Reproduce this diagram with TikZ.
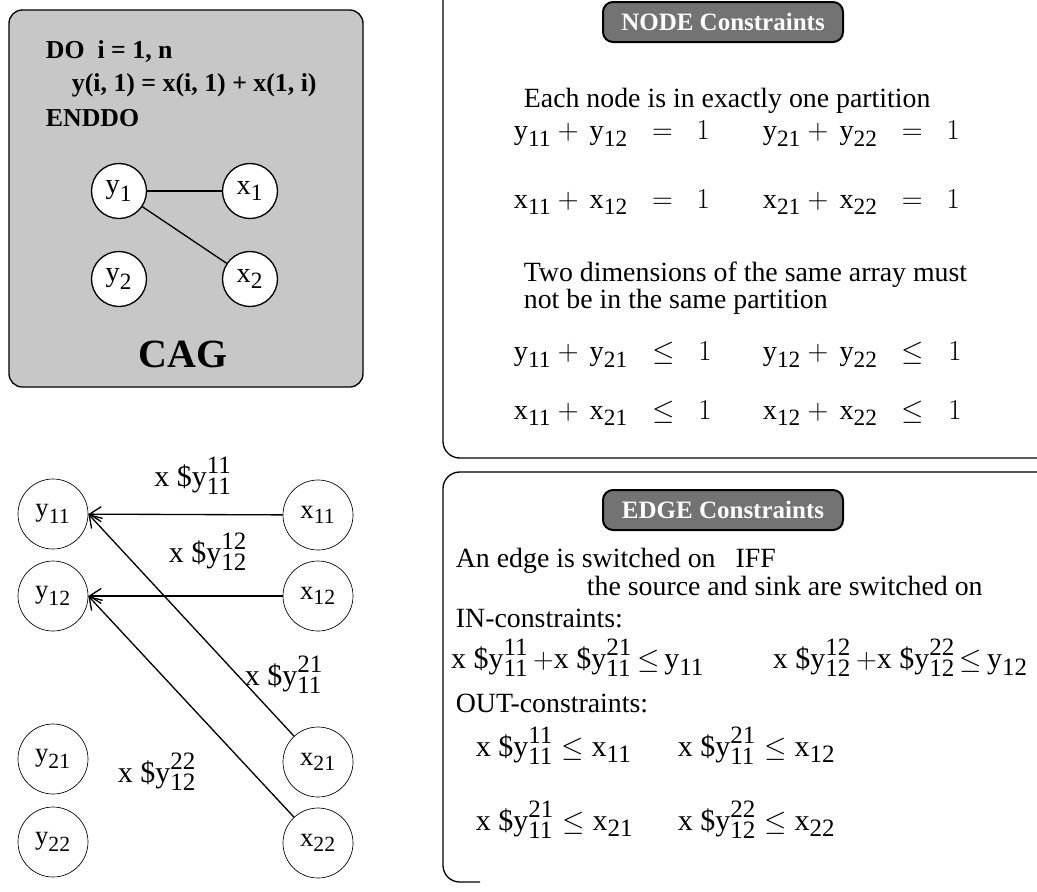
\documentclass[tikz,border=0pt]{standalone}
\usepackage{amsmath}
\usepackage{fontspec}
\setmainfont{Liberation Serif}
\usetikzlibrary{arrows.meta, positioning}
\DeclareMathSizes{16}{16}{13}{11}
\DeclareMathSizes{17}{17}{14}{12}
\DeclareMathSizes{18}{18}{15}{12}
\newcommand{\vr}[2]{\text{#1}_{\text{#2}}}
\newcommand{\ev}[2]{\text{x \$y}^{\text{#1}}_{\text{#2}}}

\tikzset{
  cagnode/.style={draw, thick, circle, fill=white, minimum size=33pt, inner sep=0pt, font=\fontsize{17}{20}\selectfont},
  gnode/.style={draw, circle, minimum size=42pt, inner sep=0pt, font=\fontsize{16}{19}\selectfont},
  badge/.style={draw, very thick, rounded corners=6pt, fill=black!55, text=white, font=\fontsize{15}{17}\selectfont\bfseries, minimum width=144pt, minimum height=24pt},
  flow/.style={-{Straight Barb[length=7pt, width=9pt]}, thick},
  txt/.style={anchor=west, font=\fontsize{16.7}{15}\selectfont},
  eqn/.style={anchor=west, font=\fontsize{17}{20}\selectfont},
  eqnb/.style={anchor=west, font=\fontsize{18}{21}\selectfont},
  code/.style={anchor=west, font=\fontsize{15.5}{18}\selectfont\bfseries},
}

\begin{document}
\begin{tikzpicture}[x=0.6pt, y=-0.6pt]
  \useasboundingbox (0,0) rectangle (1037,891);

  % CAG panel
  \draw[thick, rounded corners=8pt, fill=black!22] (9,10) rectangle (363,387);
  \node[code] (doline) at (40,52) {DO\ \ i = 1, n};
  \node[code] (body) at (66,85) {y(i, 1) = x(i, 1) + x(1, i)};
  \node[code] (enddo) at (40,118) {ENDDO};
  \node[cagnode] (y1) at (119,191) {$\vr{y}{1}$};
  \node[cagnode] (x1) at (250,191) {$\vr{x}{1}$};
  \node[cagnode] (y2) at (119,279) {$\vr{y}{2}$};
  \node[cagnode] (x2) at (250,279) {$\vr{x}{2}$};
  \draw[thick] (y1) -- (x1);
  \draw[thick] (y1) -- (x2);
  \node[font=\fontsize{24}{28}\selectfont\bfseries] (cag) at (183,354) {CAG};

  % partition graph
  \node[gnode] (y11) at (53,514) {$\vr{y}{11}$};
  \node[gnode] (y12) at (53,596) {$\vr{y}{12}$};
  \node[gnode] (y21) at (53,759) {$\vr{y}{21}$};
  \node[gnode] (y22) at (53,842) {$\vr{y}{22}$};
  \node[gnode] (x11) at (318,515) {$\vr{x}{11}$};
  \node[gnode] (x12) at (318,596) {$\vr{x}{12}$};
  \node[gnode] (x21) at (318,762) {$\vr{x}{21}$};
  \node[gnode] (x22) at (318,843) {$\vr{x}{22}$};
  \draw[flow] (x11) -- (y11);
  \draw[flow] (x12) -- (y12);
  \draw[flow] (x21) -- (y11.east);
  \draw[flow] (x22) -- (y12.east);
  \node[eqnb, anchor=center] (e1) at (193,476) {$\ev{11}{11}$};
  \node[eqnb, anchor=center] (e2) at (208,552) {$\ev{12}{12}$};
  \node[eqnb, anchor=center] (e3) at (284,675) {$\ev{21}{11}$};
  \node[eqnb, anchor=center] (e4) at (157,772) {$\ev{22}{12}$};

  % NODE constraints
  \draw[thick, rounded corners=10pt] (443,0) -- (443,458) -- (1037,458);
  \node[badge] (nodebadge) at (723,22) {NODE Constraints};
  \node[txt] (each) at (518,101) {Each node is in exactly one partition};
  \node[eqn] (n1) at (508,134) {$\vr{y}{11} + \,\vr{y}{12} \;\;=\;\; 1$};
  \node[eqn] (n2) at (757,134) {$\vr{y}{21} + \,\vr{y}{22} \;\;=\;\; 1$};
  \node[eqn] (n3) at (508,202) {$\vr{x}{11} + \,\vr{x}{12} \;\;=\;\; 1$};
  \node[eqn] (n4) at (757,202) {$\vr{x}{21} + \,\vr{x}{22} \;\;=\;\; 1$};
  \node[txt, align=left] (two) at (518,288)
    {Two dimensions of the same array must\\not be in the same partition};
  \node[eqn] (n5) at (508,355) {$\vr{y}{11} + \,\vr{y}{21} \;\;\leq\;\; 1$};
  \node[eqn] (n6) at (757,355) {$\vr{y}{12} + \,\vr{y}{22} \;\;\leq\;\; 1$};
  \node[eqn] (n7) at (508,413) {$\vr{x}{11} + \,\vr{x}{21} \;\;\leq\;\; 1$};
  \node[eqn] (n8) at (757,413) {$\vr{x}{12} + \,\vr{x}{22} \;\;\leq\;\; 1$};

  % EDGE constraints
  \draw[thick, rounded corners=10pt] (1037,472) -- (443,472) -- (443,882) -- (480,882);
  \node[badge] (edgebadge) at (723,510) {EDGE Constraints};
  \node[txt] (iff) at (450,561) {An edge is switched on\hspace{12pt}IFF};
  \node[txt] (src) at (581,586) {the source and sink are switched on};
  \node[txt] (inc) at (450,618) {IN-constraints:};
  \node[eqnb, inner sep=1pt] (in1a) at (449,658)
    {$\ev{11}{11}\,{+}\ev{21}{11}\,{\leq}\,\vr{y}{11}$};
  \node[eqnb, inner sep=1pt, anchor=east] (in1b) at (1030,658)
    {$\ev{12}{12}\,{+}\ev{22}{12}\,{\leq}\,\vr{y}{12}$};
  \node[txt] (outc) at (450,703) {OUT-constraints:};
  \node[eqnb] (o1a) at (470,746) {$\ev{11}{11} \leq \vr{x}{11}$};
  \node[eqnb] (o1b) at (672,746) {$\ev{21}{11} \leq \vr{x}{12}$};
  \node[eqnb] (o2a) at (470,820) {$\ev{21}{11} \leq \vr{x}{21}$};
  \node[eqnb] (o2b) at (672,820) {$\ev{22}{12} \leq \vr{x}{22}$};
\end{tikzpicture}
\end{document}
